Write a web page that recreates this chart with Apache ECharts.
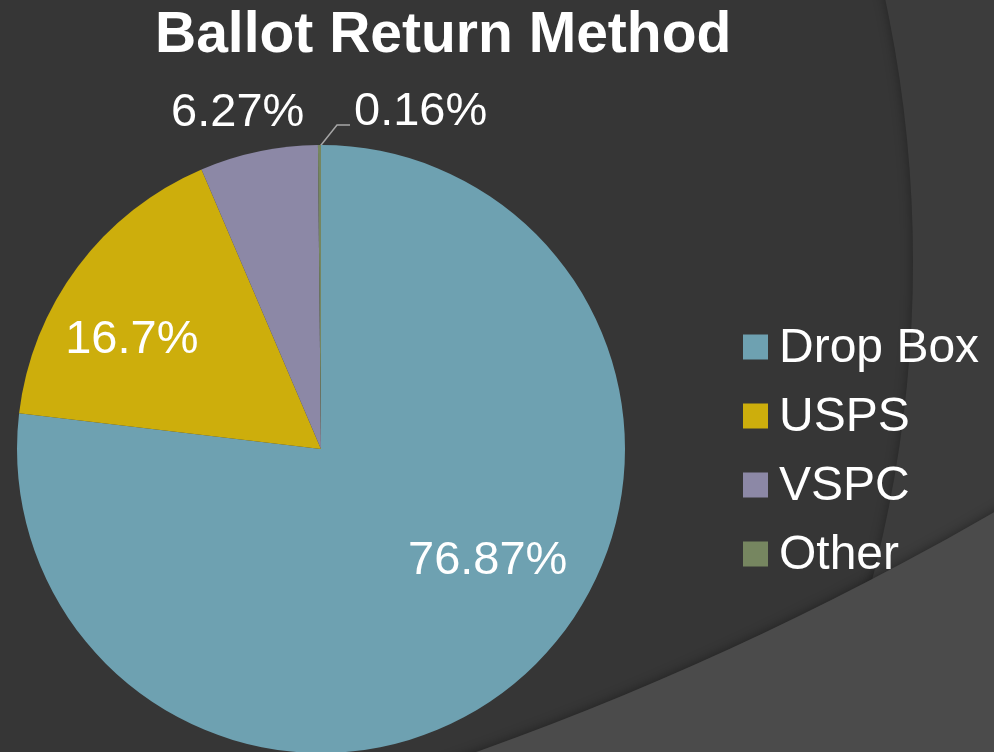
<!DOCTYPE html>
<html>
<head>
<meta charset="utf-8">
<title>Ballot Return Method</title>
<script src="https://cdn.jsdelivr.net/npm/echarts@6/dist/echarts.min.js"></script>
<style>
  html, body { margin: 0; padding: 0; background: #363636; }
  #chart { width: 994px; height: 752px; }
</style>
</head>
<body>
<div id="chart"></div>
<script>
// data
const categories = ["Drop Box", "USPS", "VSPC", "Other"];
const shares = [76.87, 16.7, 6.27, 0.16];
const sliceColors = ["#6ea1b1", "#cdae0c", "#8c88a6", "#768660"];

const FONT = "Liberation Sans, Arial, sans-serif";
const PIE = { cx: 321, cy: 449, r: 304 };
const LABEL_NUDGE = 3; // labels sit a touch lower than canvas "middle"

// angle helpers (degrees clockwise from 12 o'clock)
const total = shares.reduce((a, b) => a + b, 0);
function midAngle(i) {
  let before = 0;
  for (let k = 0; k < i; k++) before += shares[k];
  return ((before + shares[i] / 2) / total) * 360;
}
function polar(deg, rad) {
  const a = (deg * Math.PI) / 180;
  return [PIE.cx + rad * Math.sin(a), PIE.cy - rad * Math.cos(a)];
}

const chart = echarts.init(document.getElementById("chart"));

const option = {
  backgroundColor: "#363636",
  animation: false,
  // slide background swooshes
  graphic: [
    {
      type: "ring",
      silent: true,
      z: 0,
      shape: { cx: -342, cy: 262, r0: 1255, r: 3000 },
      style: { fill: "#3c3c3c", shadowBlur: 12, shadowColor: "rgba(0,0,0,0.35)" }
    },
    {
      type: "ring",
      silent: true,
      z: 0,
      shape: { cx: -572, cy: -2191, r0: 3124, r: 5000 },
      style: { fill: "#4b4b4b", shadowBlur: 12, shadowColor: "rgba(0,0,0,0.4)" }
    }
  ],
  title: {
    text: "Ballot Return Method",
    left: 155,
    top: 8,
    padding: 0,
    textStyle: {
      color: "#ffffff",
      fontFamily: FONT,
      fontWeight: "bold",
      fontSize: 57
    }
  },
  legend: {
    orient: "vertical",
    left: 743,
    top: 321,
    padding: 0,
    itemGap: 17,
    itemWidth: 25,
    itemHeight: 25,
    icon: "rect",
    data: categories,
    formatter: name => "{g|}" + name,
    textStyle: {
      color: "#ffffff",
      fontFamily: FONT,
      fontSize: 48,
      lineHeight: 48,
      padding: [4, 0, 0, 0],
      rich: { g: { width: 6, lineHeight: 48 } }
    }
  },
  series: [
    {
      type: "pie",
      center: [PIE.cx, PIE.cy],
      radius: PIE.r,
      startAngle: 90,
      clockwise: true,
      avoidLabelOverlap: false,
      silent: true,
      label: {
        show: true,
        formatter: "{c}%",
        color: "#ffffff",
        fontFamily: FONT,
        fontSize: 47
      },
      labelLine: {
        lineStyle: { color: "#a6a6a6", width: 1.5 }
      },
      data: categories.map((name, i) => ({
        name: name,
        value: shares[i],
        itemStyle: { color: sliceColors[i] },
        label: { position: i < 2 ? "inside" : "outside" },
        labelLine: { show: i === 3 }
      })),
      labelLayout: function (params) {
        const i = params.dataIndex;
        let p;
        if (i === 0) p = polar(123.1, 199);
        else if (i === 1) p = polar(300.7, 220);
        else if (i === 2) p = polar(346.2, 349);
        if (p) {
          return { x: p[0], y: p[1] + LABEL_NUDGE, align: "center", verticalAlign: "middle" };
        }
        const edge = polar(midAngle(3), PIE.r - 2);
        const knee = [PIE.cx + 16, PIE.cy - PIE.r - 20];
        const end = [PIE.cx + 29, PIE.cy - PIE.r - 20];
        return {
          x: PIE.cx + 33,
          y: PIE.cy - PIE.r - 36 + LABEL_NUDGE,
          align: "left",
          verticalAlign: "middle",
          labelLinePoints: [edge, knee, end]
        };
      }
    }
  ]
};

chart.setOption(option);
</script>
</body>
</html>
